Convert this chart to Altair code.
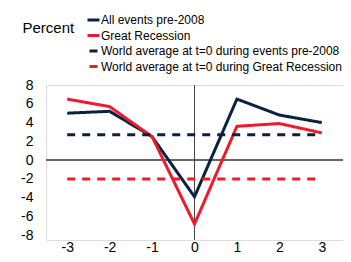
import altair as alt
import pandas as pd

years = [-3, -2, -1, 0, 1, 2, 3]
pre2008 = [5.0, 5.2, 2.5, -3.9, 6.5, 4.8, 4.0]
great_rec = [6.5, 5.7, 2.5, -6.8, 3.6, 3.9, 2.9]
world_pre2008 = 2.7
world_gr = -2.0

series_names = [
    "All events pre-2008",
    "Great Recession",
    "World average at t=0 during events pre-2008",
    "World average at t=0 during Great Recession",
]
colors = ["#0b2142", "#ec1c2d", "#0b2142", "#ec1c2d"]
dashes = [[1, 0], [1, 0], [8, 7], [8, 7]]

rows = []
for x, v in zip(years, pre2008):
    rows.append({"t": x, "v": v, "s": series_names[0]})
for x, v in zip(years, great_rec):
    rows.append({"t": x, "v": v, "s": series_names[1]})
for x in [years[0], years[-1]]:
    rows.append({"t": x, "v": world_pre2008, "s": series_names[2]})
    rows.append({"t": x, "v": world_gr, "s": series_names[3]})
df = pd.DataFrame(rows)

xscale = alt.Scale(domain=[-3.5, 3.5], nice=False, zero=False)
yscale = alt.Scale(domain=[-8.5, 8], nice=False, zero=False)

xaxis = alt.Axis(values=years, domain=False, ticks=False, grid=False,
                 labelFontSize=14, labelPadding=7, labelBaseline="middle",
                 title=None, labelColor="#000",
                 labelExpr="'' + datum.value")
yaxis = alt.Axis(values=list(range(-8, 9, 2)), domain=False, ticks=False, grid=False,
                 labelFontSize=14, labelPadding=13, labelColor="#000",
                 labelExpr="'' + datum.value",
                 title="Percent", titleAngle=0, titleFontSize=15, titleFontWeight="normal",
                 titleAlign="left", titleBaseline="middle", titleX=-24, titleY=-58,
                 titleColor="#000")

vrule = alt.Chart(df).mark_rule(color="#444", strokeWidth=1).encode(
    x=alt.datum(0, scale=xscale, axis=xaxis, type="quantitative"))
hrule = alt.Chart(df).mark_rule(color="#666", strokeWidth=1).encode(
    y=alt.datum(0, scale=yscale, axis=yaxis, type="quantitative"))

legend = alt.Legend(title=None, orient="none", legendX=40, legendY=-72.5,
                    symbolType="stroke", symbolSize=144, symbolStrokeWidth=3,
                    labelFontSize=12, labelOffset=0, rowPadding=1.5, padding=0,
                    symbolDashOffset=-2, labelColor="#000", labelLimit=400)

lines = alt.Chart(df).mark_line(strokeWidth=3).encode(
    x=alt.X("t:Q", scale=xscale, axis=xaxis),
    y=alt.Y("v:Q", scale=yscale, axis=yaxis),
    color=alt.Color("s:N", scale=alt.Scale(domain=series_names, range=colors),
                    sort=series_names, legend=legend),
    strokeDash=alt.StrokeDash("s:N", scale=alt.Scale(domain=series_names, range=dashes),
                              sort=series_names, legend=legend),
    detail="s:N",
)

chart = alt.layer(hrule, vrule, lines).properties(
    width=297, height=155,
    autosize=alt.AutoSizeParams(type="none"),
    padding={"left": 38, "top": 77, "right": 0, "bottom": 14},
).configure_view(stroke=None).configure(font="Liberation Sans")

chart.save("out.html", embed_options={"renderer": "svg", "actions": False})
